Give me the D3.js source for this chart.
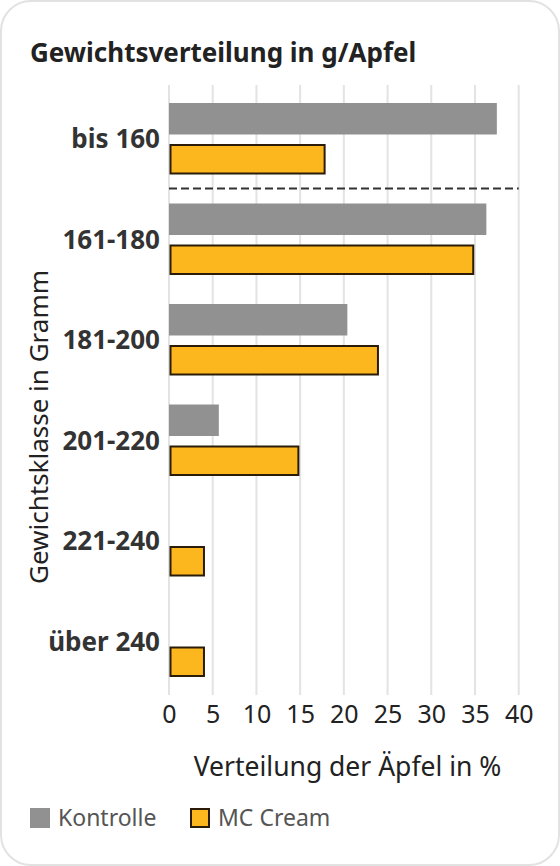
<!DOCTYPE html>
<html><head><meta charset="utf-8">
<script src="https://cdn.jsdelivr.net/npm/d3@7"></script>
<style>
html,body{margin:0;padding:0;background:#fff;}
svg{display:block;font-family:"Noto Sans",sans-serif;}
</style></head>
<body>
<svg id="chart" width="560" height="866"></svg>
<script>
const categories = ["bis 160","161-180","181-200","201-220","221-240","über 240"];
const kontrolle = [37.5, 36.3, 20.4, 5.7, 0, 0];
const mcCream = [17.8, 34.8, 23.9, 14.8, 4.0, 4.0];
const xTicks = [0,5,10,15,20,25,30,35,40];
const seriesNames = ["Kontrolle","MC Cream"];

const svg = d3.select("#chart");
const W = 560, H = 866;

svg.append("rect").attr("x",1).attr("y",1).attr("width",W-2).attr("height",H-2)
  .attr("rx",30).attr("ry",30).attr("fill","#fff").attr("stroke","#e2e2e2").attr("stroke-width",2);

svg.append("text").attr("x",30).attr("y",62).attr("font-size",26).attr("font-weight","bold")
  .attr("fill","#222").text("Gewichtsverteilung in g/Apfel");

const x = d3.scaleLinear().domain([0,40]).range([169,518.7]);
const y = d3.scaleBand().domain(categories).range([88,691]).paddingInner(0).paddingOuter(0);

// gridlines
svg.append("g").selectAll("line").data(xTicks).join("line")
  .attr("x1",d=>x(d)).attr("x2",d=>x(d)).attr("y1",85).attr("y2",695)
  .attr("stroke","#e3e3e3").attr("stroke-width",2);

// tick labels via axis
const xAxis = d3.axisBottom(x).tickValues(xTicks).tickSize(0).tickPadding(0);
const gx = svg.append("g").attr("transform","translate(0,705)").call(xAxis);
gx.select(".domain").remove();
gx.selectAll("text").attr("font-size",25).attr("fill","#222")
  .attr("font-family","'Noto Sans',sans-serif").attr("dy","0.71em");

svg.append("text").attr("x",347.5).attr("y",776).attr("text-anchor","middle")
  .attr("font-size",26.5).attr("fill","#222").text("Verteilung der Äpfel in %");

// category labels
svg.append("g").selectAll("text").data(categories).join("text")
  .attr("x",160).attr("y",d=>y(d)+y.bandwidth()/2+10)
  .attr("text-anchor","end").attr("font-size",26).attr("font-weight","bold")
  .attr("fill","#333").text(d=>d);

svg.append("text").attr("transform","translate(48,427) rotate(-90)").attr("text-anchor","middle")
  .attr("font-size",26).attr("fill","#222").text("Gewichtsklasse in Gramm");

// bars
svg.append("g").selectAll("rect").data(categories).join("rect")
  .attr("x",x(0)).attr("y",d=>y(d)+15)
  .attr("width",(d,i)=>Math.max(0,x(kontrolle[i])-x(0))).attr("height",31.5)
  .attr("fill","#919191");

svg.append("g").selectAll("rect").data(categories).join("rect")
  .attr("x",x(0)+1.5).attr("y",d=>y(d)+57)
  .attr("width",(d,i)=>Math.max(0,x(mcCream[i])-x(0)-1.5)).attr("height",28.5)
  .attr("fill","#FDB71E").attr("stroke","#2a1c08").attr("stroke-width",2);

// dashed separator after first category
svg.append("line").attr("x1",x(0)).attr("x2",x(40))
  .attr("y1",y(categories[1])).attr("y2",y(categories[1]))
  .attr("stroke","#333").attr("stroke-width",2).attr("stroke-dasharray","8,4");

// legend
const lg = svg.append("g");
const lx = [30,190];
lg.append("rect").attr("x",lx[0]).attr("y",808).attr("width",20).attr("height",20).attr("fill","#919191");
lg.append("rect").attr("x",lx[1]+1).attr("y",809).attr("width",18).attr("height",18)
  .attr("fill","#FDB71E").attr("stroke","#2a1c08").attr("stroke-width",2);
lg.selectAll("text").data(seriesNames).join("text")
  .attr("x",(d,i)=>lx[i]+28).attr("y",826).attr("font-size",23).attr("fill","#555").text(d=>d);
</script>
</body></html>
